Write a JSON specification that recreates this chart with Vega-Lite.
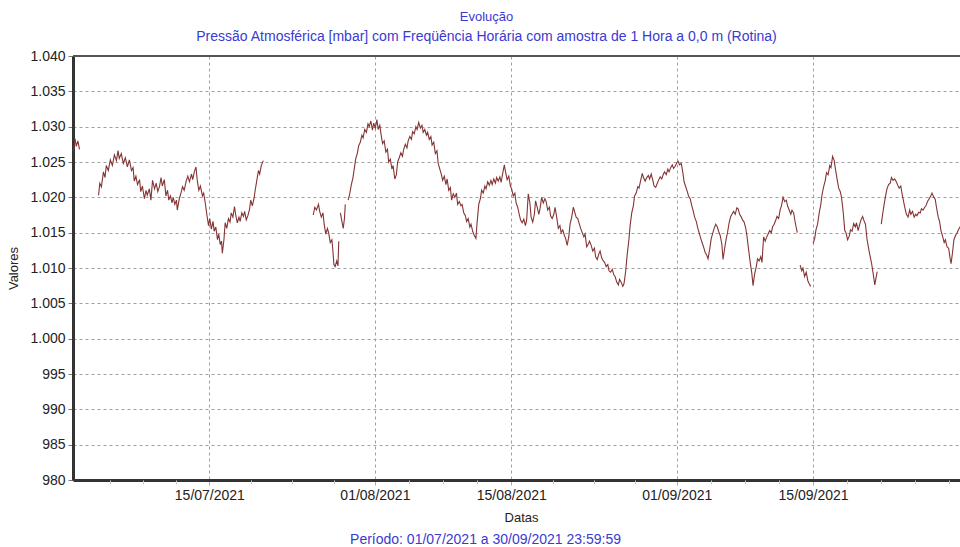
{
 "$schema": "https://vega.github.io/schema/vega-lite/v6.json",
 "width": 887,
 "height": 424,
 "autosize": {"type": "none"},
 "padding": {"left": 73, "top": 56, "right": 0, "bottom": 67},
 "background": "#ffffff",
 "config": {"view": {"stroke": null}, "font": "Liberation Sans"},
 "title": {"text": "Evolução", "subtitle": "Pressão Atmosférica [mbar] com Freqüência Horária com amostra de 1 Hora a 0,0 m (Rotina)", "color": "#3a3ad0", "subtitleColor": "#3a3ad0", "fontSize": 13, "subtitleFontSize": 14, "fontWeight": "normal", "font": "Liberation Sans", "subtitleFont": "Liberation Sans", "anchor": "middle", "frame": "group", "dx": -30, "offset": 5, "subtitlePadding": 6},
 "layer": [
  {
   "data": {"values": [
{"t":"2021-07-01T01:00","v":1026.5},{"t":"2021-07-01T05:00","v":1028.3},{"t":"2021-07-01T08:00","v":1027.2},{"t":"2021-07-01T12:00","v":1028},{"t":"2021-07-01T16:00","v":1026.8},{"t":"2021-07-01T20:00","v":null},
{"t":"2021-07-03T15:00","v":1020.3},{"t":"2021-07-03T18:00","v":1022},{"t":"2021-07-03T22:00","v":1021.5},{"t":"2021-07-04T03:00","v":1023.6},{"t":"2021-07-04T07:00","v":1022.8},{"t":"2021-07-04T10:00","v":1024.5},{"t":"2021-07-04T15:00","v":1023.8},{"t":"2021-07-04T20:00","v":1025.3},{"t":"2021-07-05T01:00","v":1024.5},{"t":"2021-07-05T06:00","v":1026},{"t":"2021-07-05T11:00","v":1025.2},{"t":"2021-07-05T15:00","v":1026.6},{"t":"2021-07-05T18:00","v":1025.5},{"t":"2021-07-05T23:00","v":1026.2},
{"t":"2021-07-06T04:00","v":1024.8},{"t":"2021-07-06T09:00","v":1025.6},{"t":"2021-07-06T14:00","v":1024.3},{"t":"2021-07-06T19:00","v":1025.3},{"t":"2021-07-07T00:00","v":1023.8},{"t":"2021-07-07T04:00","v":1024.2},{"t":"2021-07-07T07:00","v":1022.3},{"t":"2021-07-07T11:00","v":1023},{"t":"2021-07-07T15:00","v":1021.8},{"t":"2021-07-07T20:00","v":1022.5},{"t":"2021-07-07T23:00","v":1020.8},
{"t":"2021-07-08T03:00","v":1021.6},{"t":"2021-07-08T08:00","v":1019.8},{"t":"2021-07-08T12:00","v":1021},{"t":"2021-07-08T15:00","v":1020.3},{"t":"2021-07-08T20:00","v":1021.2},{"t":"2021-07-09T00:00","v":1019.6},{"t":"2021-07-09T04:00","v":1022.4},{"t":"2021-07-09T09:00","v":1021.2},{"t":"2021-07-09T13:00","v":1022},{"t":"2021-07-09T17:00","v":1020.8},{"t":"2021-07-09T21:00","v":1021.5},
{"t":"2021-07-10T01:00","v":1022.8},{"t":"2021-07-10T04:00","v":1021.6},{"t":"2021-07-10T09:00","v":1022.5},{"t":"2021-07-10T13:00","v":1020.2},{"t":"2021-07-10T17:00","v":1021},{"t":"2021-07-10T20:00","v":1019.6},{"t":"2021-07-11T00:00","v":1020.2},{"t":"2021-07-11T04:00","v":1019.2},{"t":"2021-07-11T07:00","v":1020},{"t":"2021-07-11T11:00","v":1019},{"t":"2021-07-11T15:00","v":1019.6},{"t":"2021-07-11T17:00","v":1018.2},{"t":"2021-07-11T22:00","v":1019.8},
{"t":"2021-07-12T02:00","v":1020.6},{"t":"2021-07-12T06:00","v":1021.5},{"t":"2021-07-12T10:00","v":1021},{"t":"2021-07-12T15:00","v":1022.3},{"t":"2021-07-12T19:00","v":1023},{"t":"2021-07-12T23:00","v":1022.2},{"t":"2021-07-13T04:00","v":1023.3},{"t":"2021-07-13T07:00","v":1022.5},{"t":"2021-07-13T11:00","v":1023.6},{"t":"2021-07-13T15:00","v":1024.3},{"t":"2021-07-13T18:00","v":1022.5},{"t":"2021-07-13T22:00","v":1021},
{"t":"2021-07-14T02:00","v":1021.6},{"t":"2021-07-14T07:00","v":1020.2},{"t":"2021-07-14T10:00","v":1020.6},{"t":"2021-07-14T14:00","v":1019.2},{"t":"2021-07-14T18:00","v":1017.5},{"t":"2021-07-14T22:00","v":1016},{"t":"2021-07-15T01:00","v":1017},{"t":"2021-07-15T05:00","v":1015.5},{"t":"2021-07-15T09:00","v":1016.6},{"t":"2021-07-15T12:00","v":1015.2},{"t":"2021-07-15T16:00","v":1015.8},{"t":"2021-07-15T20:00","v":1014},{"t":"2021-07-15T23:00","v":1014.8},
{"t":"2021-07-16T03:00","v":1013.3},{"t":"2021-07-16T06:00","v":1013.8},{"t":"2021-07-16T08:00","v":1012.1},{"t":"2021-07-16T12:00","v":1014},{"t":"2021-07-16T15:00","v":1016.4},{"t":"2021-07-16T19:00","v":1015.6},{"t":"2021-07-16T23:00","v":1017},{"t":"2021-07-17T03:00","v":1016.5},{"t":"2021-07-17T06:00","v":1017.8},{"t":"2021-07-17T10:00","v":1017.2},{"t":"2021-07-17T14:00","v":1018.7},{"t":"2021-07-17T17:00","v":1017.5},{"t":"2021-07-17T21:00","v":1016.4},
{"t":"2021-07-18T01:00","v":1017.2},{"t":"2021-07-18T04:00","v":1016.6},{"t":"2021-07-18T08:00","v":1017.8},{"t":"2021-07-18T12:00","v":1017.3},{"t":"2021-07-18T15:00","v":1018},{"t":"2021-07-18T19:00","v":1016.8},{"t":"2021-07-18T23:00","v":1017.4},{"t":"2021-07-19T03:00","v":1018.3},{"t":"2021-07-19T06:00","v":1019.6},{"t":"2021-07-19T10:00","v":1018.8},{"t":"2021-07-19T14:00","v":1019.8},{"t":"2021-07-19T17:00","v":1021},{"t":"2021-07-19T21:00","v":1022.4},
{"t":"2021-07-20T01:00","v":1023.8},{"t":"2021-07-20T04:00","v":1023.3},{"t":"2021-07-20T08:00","v":1024.5},{"t":"2021-07-20T13:00","v":1025.2},{"t":"2021-07-20T18:00","v":null},
{"t":"2021-07-25T16:00","v":1017.5},{"t":"2021-07-25T20:00","v":1018.6},{"t":"2021-07-26T00:00","v":1018.2},{"t":"2021-07-26T05:00","v":1019},{"t":"2021-07-26T08:00","v":1018},{"t":"2021-07-26T12:00","v":1017.2},{"t":"2021-07-26T16:00","v":1017.8},{"t":"2021-07-26T19:00","v":1016.2},{"t":"2021-07-26T23:00","v":1014.8},{"t":"2021-07-27T03:00","v":1015.6},{"t":"2021-07-27T06:00","v":1015},{"t":"2021-07-27T10:00","v":1013.6},{"t":"2021-07-27T14:00","v":1014},{"t":"2021-07-27T16:00","v":1012.8},{"t":"2021-07-27T19:00","v":1010.5},{"t":"2021-07-27T22:00","v":1010.2},{"t":"2021-07-28T02:00","v":1011},{"t":"2021-07-28T05:00","v":1010.3},{"t":"2021-07-28T07:00","v":1013.8},{"t":"2021-07-28T09:00","v":null},
{"t":"2021-07-28T11:00","v":1017.8},{"t":"2021-07-28T14:00","v":1016.8},{"t":"2021-07-28T18:00","v":1015.6},{"t":"2021-07-28T21:00","v":1017},{"t":"2021-07-28T23:00","v":1019},{"t":"2021-07-29T02:00","v":null},
{"t":"2021-07-29T06:00","v":1019.6},{"t":"2021-07-29T10:00","v":1020.5},{"t":"2021-07-29T14:00","v":1021.8},{"t":"2021-07-29T18:00","v":1022.8},{"t":"2021-07-29T21:00","v":1024},{"t":"2021-07-30T01:00","v":1025.5},{"t":"2021-07-30T05:00","v":1026.3},{"t":"2021-07-30T08:00","v":1027.3},{"t":"2021-07-30T12:00","v":1027.8},{"t":"2021-07-30T16:00","v":1028.8},{"t":"2021-07-30T19:00","v":1028.4},{"t":"2021-07-30T23:00","v":1029.6},
{"t":"2021-07-31T03:00","v":1029.2},{"t":"2021-07-31T07:00","v":1030.4},{"t":"2021-07-31T10:00","v":1030},{"t":"2021-07-31T14:00","v":1030.8},{"t":"2021-07-31T18:00","v":1029.5},{"t":"2021-07-31T21:00","v":1030.5},{"t":"2021-08-01T01:00","v":1029.8},{"t":"2021-08-01T05:00","v":1031},{"t":"2021-08-01T08:00","v":1029.6},{"t":"2021-08-01T12:00","v":1030.2},{"t":"2021-08-01T16:00","v":1028.6},{"t":"2021-08-01T19:00","v":1027.6},{"t":"2021-08-01T23:00","v":1028},
{"t":"2021-08-02T03:00","v":1026.4},{"t":"2021-08-02T07:00","v":1026.8},{"t":"2021-08-02T10:00","v":1025},{"t":"2021-08-02T14:00","v":1025.4},{"t":"2021-08-02T18:00","v":1024},{"t":"2021-08-02T21:00","v":1024.5},{"t":"2021-08-03T01:00","v":1022.6},{"t":"2021-08-03T05:00","v":1023.2},{"t":"2021-08-03T08:00","v":1025},{"t":"2021-08-03T12:00","v":1025.6},{"t":"2021-08-03T16:00","v":1026.3},{"t":"2021-08-03T20:00","v":1025.8},{"t":"2021-08-03T23:00","v":1026.8},
{"t":"2021-08-04T03:00","v":1027.5},{"t":"2021-08-04T07:00","v":1027},{"t":"2021-08-04T10:00","v":1028},{"t":"2021-08-04T14:00","v":1028.6},{"t":"2021-08-04T18:00","v":1028.2},{"t":"2021-08-04T21:00","v":1029.3},{"t":"2021-08-05T01:00","v":1029},{"t":"2021-08-05T05:00","v":1030},{"t":"2021-08-05T08:00","v":1029.6},{"t":"2021-08-05T12:00","v":1030.6},{"t":"2021-08-05T16:00","v":1029.8},{"t":"2021-08-05T20:00","v":1030.2},{"t":"2021-08-05T23:00","v":1029.2},
{"t":"2021-08-06T03:00","v":1029.6},{"t":"2021-08-06T07:00","v":1028.8},{"t":"2021-08-06T10:00","v":1029.2},{"t":"2021-08-06T14:00","v":1028.2},{"t":"2021-08-06T18:00","v":1028.6},{"t":"2021-08-06T21:00","v":1027.4},{"t":"2021-08-07T01:00","v":1027.8},{"t":"2021-08-07T05:00","v":1026.2},{"t":"2021-08-07T09:00","v":1026.6},{"t":"2021-08-07T12:00","v":1024.8},{"t":"2021-08-07T16:00","v":1024},{"t":"2021-08-07T20:00","v":1023.2},{"t":"2021-08-07T23:00","v":1022.4},
{"t":"2021-08-08T03:00","v":1023},{"t":"2021-08-08T07:00","v":1021.8},{"t":"2021-08-08T10:00","v":1022.6},{"t":"2021-08-08T14:00","v":1021},{"t":"2021-08-08T18:00","v":1021.4},{"t":"2021-08-08T21:00","v":1019.6},{"t":"2021-08-09T01:00","v":1020.5},{"t":"2021-08-09T05:00","v":1020},{"t":"2021-08-09T09:00","v":1020.6},{"t":"2021-08-09T12:00","v":1019},{"t":"2021-08-09T16:00","v":1019.4},{"t":"2021-08-09T20:00","v":1018.8},{"t":"2021-08-09T23:00","v":1019},
{"t":"2021-08-10T03:00","v":1017.8},{"t":"2021-08-10T07:00","v":1017.4},{"t":"2021-08-10T10:00","v":1016.6},{"t":"2021-08-10T14:00","v":1017},{"t":"2021-08-10T18:00","v":1015.8},{"t":"2021-08-10T21:00","v":1016.2},{"t":"2021-08-11T01:00","v":1015.2},{"t":"2021-08-11T05:00","v":1014.6},{"t":"2021-08-11T09:00","v":1014.2},{"t":"2021-08-11T12:00","v":1016.5},{"t":"2021-08-11T16:00","v":1019},{"t":"2021-08-11T20:00","v":1019.8},{"t":"2021-08-11T23:00","v":1021},
{"t":"2021-08-12T03:00","v":1020.6},{"t":"2021-08-12T07:00","v":1021.6},{"t":"2021-08-12T10:00","v":1021.2},{"t":"2021-08-12T14:00","v":1022.2},{"t":"2021-08-12T18:00","v":1021.7},{"t":"2021-08-12T22:00","v":1022.4},{"t":"2021-08-13T01:00","v":1021.8},{"t":"2021-08-13T05:00","v":1022.6},{"t":"2021-08-13T09:00","v":1022},{"t":"2021-08-13T12:00","v":1022.8},{"t":"2021-08-13T16:00","v":1022.3},{"t":"2021-08-13T20:00","v":1022.9},{"t":"2021-08-13T23:00","v":1022.1},
{"t":"2021-08-14T03:00","v":1023.4},{"t":"2021-08-14T07:00","v":1024.6},{"t":"2021-08-14T10:00","v":1023.6},{"t":"2021-08-14T14:00","v":1022.5},{"t":"2021-08-14T18:00","v":1023},{"t":"2021-08-14T22:00","v":1021.6},{"t":"2021-08-15T01:00","v":1021.2},{"t":"2021-08-15T05:00","v":1020.2},{"t":"2021-08-15T09:00","v":1020.6},{"t":"2021-08-15T12:00","v":1019.2},{"t":"2021-08-15T16:00","v":1018.6},{"t":"2021-08-15T20:00","v":1017.5},{"t":"2021-08-15T23:00","v":1016.8},
{"t":"2021-08-16T03:00","v":1016.4},{"t":"2021-08-16T07:00","v":1016.9},{"t":"2021-08-16T11:00","v":1016},{"t":"2021-08-16T14:00","v":1016.8},{"t":"2021-08-16T18:00","v":1020.5},{"t":"2021-08-16T22:00","v":1019.2},{"t":"2021-08-17T01:00","v":1017.2},{"t":"2021-08-17T05:00","v":1016.5},{"t":"2021-08-17T09:00","v":1017.6},{"t":"2021-08-17T12:00","v":1019.5},{"t":"2021-08-17T16:00","v":1018.6},{"t":"2021-08-17T20:00","v":1017.6},{"t":"2021-08-17T23:00","v":1018.4},
{"t":"2021-08-18T03:00","v":1020},{"t":"2021-08-18T07:00","v":1019.2},{"t":"2021-08-18T11:00","v":1019.8},{"t":"2021-08-18T14:00","v":1019.4},{"t":"2021-08-18T18:00","v":1018.2},{"t":"2021-08-18T22:00","v":1018.6},{"t":"2021-08-19T01:00","v":1017.4},{"t":"2021-08-19T05:00","v":1017},{"t":"2021-08-19T09:00","v":1017.6},{"t":"2021-08-19T12:00","v":1018.6},{"t":"2021-08-19T16:00","v":1017.2},{"t":"2021-08-19T20:00","v":1015.6},
{"t":"2021-08-20T00:00","v":1016},{"t":"2021-08-20T03:00","v":1015},{"t":"2021-08-20T07:00","v":1015.4},{"t":"2021-08-20T11:00","v":1014.6},{"t":"2021-08-20T14:00","v":1014.2},{"t":"2021-08-20T18:00","v":1013.2},{"t":"2021-08-20T22:00","v":1014.5},{"t":"2021-08-21T01:00","v":1016.2},{"t":"2021-08-21T05:00","v":1017.2},{"t":"2021-08-21T09:00","v":1018.6},{"t":"2021-08-21T12:00","v":1018},{"t":"2021-08-21T16:00","v":1017.2},{"t":"2021-08-21T20:00","v":1017},
{"t":"2021-08-22T00:00","v":1016.2},{"t":"2021-08-22T03:00","v":1015.6},{"t":"2021-08-22T07:00","v":1015},{"t":"2021-08-22T11:00","v":1014.4},{"t":"2021-08-22T14:00","v":1014.8},{"t":"2021-08-22T18:00","v":1013},{"t":"2021-08-22T22:00","v":1013.4},{"t":"2021-08-23T01:00","v":1013.8},{"t":"2021-08-23T05:00","v":1013.2},{"t":"2021-08-23T09:00","v":1012.4},{"t":"2021-08-23T13:00","v":1012.8},{"t":"2021-08-23T16:00","v":1011.6},{"t":"2021-08-23T20:00","v":1011.2},
{"t":"2021-08-24T00:00","v":1012},{"t":"2021-08-24T03:00","v":1012.4},{"t":"2021-08-24T07:00","v":1011.4},{"t":"2021-08-24T11:00","v":1011},{"t":"2021-08-24T14:00","v":1010.8},{"t":"2021-08-24T18:00","v":1010.2},{"t":"2021-08-24T22:00","v":1010.5},{"t":"2021-08-25T01:00","v":1009.6},{"t":"2021-08-25T05:00","v":1009.4},{"t":"2021-08-25T09:00","v":1009.8},{"t":"2021-08-25T13:00","v":1009},{"t":"2021-08-25T16:00","v":1008.8},{"t":"2021-08-25T20:00","v":1008},
{"t":"2021-08-26T00:00","v":1007.6},{"t":"2021-08-26T03:00","v":1008.4},{"t":"2021-08-26T07:00","v":1008},{"t":"2021-08-26T11:00","v":1007.4},{"t":"2021-08-26T14:00","v":1007.8},{"t":"2021-08-26T18:00","v":1009.5},{"t":"2021-08-26T22:00","v":1012},{"t":"2021-08-27T02:00","v":1014},{"t":"2021-08-27T05:00","v":1016},{"t":"2021-08-27T09:00","v":1017.8},{"t":"2021-08-27T13:00","v":1018.8},{"t":"2021-08-27T16:00","v":1020.2},{"t":"2021-08-27T20:00","v":1020.6},
{"t":"2021-08-28T00:00","v":1021.5},{"t":"2021-08-28T03:00","v":1021.3},{"t":"2021-08-28T07:00","v":1022.4},{"t":"2021-08-28T11:00","v":1023.4},{"t":"2021-08-28T14:00","v":1022.8},{"t":"2021-08-28T18:00","v":1022.3},{"t":"2021-08-28T22:00","v":1022.8},{"t":"2021-08-29T02:00","v":1023.1},{"t":"2021-08-29T05:00","v":1022.6},{"t":"2021-08-29T09:00","v":1023.3},{"t":"2021-08-29T13:00","v":1022.4},{"t":"2021-08-29T16:00","v":1021.6},{"t":"2021-08-29T20:00","v":1021.4},
{"t":"2021-08-30T00:00","v":1022},{"t":"2021-08-30T03:00","v":1022.4},{"t":"2021-08-30T07:00","v":1022.9},{"t":"2021-08-30T11:00","v":1022.6},{"t":"2021-08-30T15:00","v":1023.3},{"t":"2021-08-30T18:00","v":1023.6},{"t":"2021-08-30T22:00","v":1023.2},{"t":"2021-08-31T02:00","v":1024},{"t":"2021-08-31T05:00","v":1023.6},{"t":"2021-08-31T09:00","v":1024.2},{"t":"2021-08-31T13:00","v":1024.6},{"t":"2021-08-31T16:00","v":1024.1},{"t":"2021-08-31T20:00","v":1024.4},
{"t":"2021-09-01T00:00","v":1024.9},{"t":"2021-09-01T03:00","v":1025.1},{"t":"2021-09-01T07:00","v":1024.6},{"t":"2021-09-01T11:00","v":1024.8},{"t":"2021-09-01T15:00","v":1023.5},{"t":"2021-09-01T18:00","v":1022.2},{"t":"2021-09-01T22:00","v":1021.5},{"t":"2021-09-02T02:00","v":1020.8},{"t":"2021-09-02T05:00","v":1020.2},{"t":"2021-09-02T09:00","v":1019.8},{"t":"2021-09-02T13:00","v":1018.8},{"t":"2021-09-02T16:00","v":1018.2},{"t":"2021-09-02T20:00","v":1017.2},
{"t":"2021-09-03T00:00","v":1016.6},{"t":"2021-09-03T04:00","v":1015.6},{"t":"2021-09-03T07:00","v":1015},{"t":"2021-09-03T11:00","v":1014.2},{"t":"2021-09-03T15:00","v":1013.5},{"t":"2021-09-03T18:00","v":1013},{"t":"2021-09-03T22:00","v":1012.2},{"t":"2021-09-04T02:00","v":1011.8},{"t":"2021-09-04T05:00","v":1011.3},{"t":"2021-09-04T09:00","v":1012.6},{"t":"2021-09-04T13:00","v":1014.2},{"t":"2021-09-04T16:00","v":1014.8},{"t":"2021-09-04T20:00","v":1015.6},
{"t":"2021-09-05T00:00","v":1016.2},{"t":"2021-09-05T04:00","v":1015.8},{"t":"2021-09-05T07:00","v":1015.2},{"t":"2021-09-05T11:00","v":1014.6},{"t":"2021-09-05T15:00","v":1013.4},{"t":"2021-09-05T18:00","v":1011.2},{"t":"2021-09-05T22:00","v":1012.8},{"t":"2021-09-06T02:00","v":1014.2},{"t":"2021-09-06T05:00","v":1015},{"t":"2021-09-06T09:00","v":1016.4},{"t":"2021-09-06T13:00","v":1017.3},{"t":"2021-09-06T16:00","v":1017.6},{"t":"2021-09-06T20:00","v":1018},
{"t":"2021-09-07T00:00","v":1017.6},{"t":"2021-09-07T04:00","v":1018.5},{"t":"2021-09-07T07:00","v":1018.4},{"t":"2021-09-07T11:00","v":1017.6},{"t":"2021-09-07T15:00","v":1017.2},{"t":"2021-09-07T18:00","v":1016.8},{"t":"2021-09-07T22:00","v":1016.5},{"t":"2021-09-08T02:00","v":1015.6},{"t":"2021-09-08T05:00","v":1014.5},{"t":"2021-09-08T09:00","v":1012.6},{"t":"2021-09-08T13:00","v":1010.8},{"t":"2021-09-08T17:00","v":1009.2},{"t":"2021-09-08T20:00","v":1007.5},
{"t":"2021-09-09T00:00","v":1009.2},{"t":"2021-09-09T04:00","v":1010.2},{"t":"2021-09-09T07:00","v":1011.3},{"t":"2021-09-09T11:00","v":1011},{"t":"2021-09-09T15:00","v":1011.6},{"t":"2021-09-09T18:00","v":1010.8},{"t":"2021-09-09T22:00","v":1014.4},{"t":"2021-09-10T02:00","v":1013.8},{"t":"2021-09-10T05:00","v":1014.3},{"t":"2021-09-10T09:00","v":1014.8},{"t":"2021-09-10T13:00","v":1015.3},{"t":"2021-09-10T17:00","v":1015},{"t":"2021-09-10T20:00","v":1015.8},
{"t":"2021-09-11T00:00","v":1016.2},{"t":"2021-09-11T04:00","v":1016.8},{"t":"2021-09-11T07:00","v":1017.3},{"t":"2021-09-11T11:00","v":1017},{"t":"2021-09-11T15:00","v":1018.3},{"t":"2021-09-11T18:00","v":1018.8},{"t":"2021-09-11T22:00","v":1020},{"t":"2021-09-12T02:00","v":1019.4},{"t":"2021-09-12T06:00","v":1019.6},{"t":"2021-09-12T09:00","v":1018.8},{"t":"2021-09-12T13:00","v":1018.2},{"t":"2021-09-12T17:00","v":1017.6},{"t":"2021-09-12T20:00","v":1018.2},
{"t":"2021-09-13T00:00","v":1017.8},{"t":"2021-09-13T04:00","v":1016.4},{"t":"2021-09-13T09:00","v":1015},{"t":"2021-09-13T12:00","v":null},
{"t":"2021-09-13T16:00","v":1010.4},{"t":"2021-09-13T20:00","v":1009.6},{"t":"2021-09-13T23:00","v":1010},{"t":"2021-09-14T03:00","v":1008.8},{"t":"2021-09-14T07:00","v":1009.4},{"t":"2021-09-14T11:00","v":1008.2},{"t":"2021-09-14T14:00","v":1007.8},{"t":"2021-09-14T18:00","v":1007.4},{"t":"2021-09-14T21:00","v":null},
{"t":"2021-09-15T00:00","v":1013.5},{"t":"2021-09-15T04:00","v":1014.2},{"t":"2021-09-15T07:00","v":1015.4},{"t":"2021-09-15T11:00","v":1016.2},{"t":"2021-09-15T15:00","v":1017.8},{"t":"2021-09-15T19:00","v":1019},{"t":"2021-09-15T22:00","v":1020.4},{"t":"2021-09-16T02:00","v":1021.5},{"t":"2021-09-16T06:00","v":1022.4},{"t":"2021-09-16T09:00","v":1023.5},{"t":"2021-09-16T13:00","v":1023.2},{"t":"2021-09-16T17:00","v":1024.5},{"t":"2021-09-16T20:00","v":1024.2},
{"t":"2021-09-17T00:00","v":1025.8},{"t":"2021-09-17T04:00","v":1025.2},{"t":"2021-09-17T07:00","v":1024},{"t":"2021-09-17T11:00","v":1022.6},{"t":"2021-09-17T15:00","v":1021.3},{"t":"2021-09-17T19:00","v":1020.8},{"t":"2021-09-17T22:00","v":1020},{"t":"2021-09-18T02:00","v":1018},{"t":"2021-09-18T06:00","v":1015.3},{"t":"2021-09-18T09:00","v":1015},{"t":"2021-09-18T13:00","v":1014},{"t":"2021-09-18T17:00","v":1014.5},{"t":"2021-09-18T20:00","v":1015.4},
{"t":"2021-09-19T00:00","v":1015.2},{"t":"2021-09-19T04:00","v":1016.3},{"t":"2021-09-19T08:00","v":1015.8},{"t":"2021-09-19T11:00","v":1016.4},{"t":"2021-09-19T15:00","v":1015.3},{"t":"2021-09-19T19:00","v":1016.2},{"t":"2021-09-19T22:00","v":1016.8},{"t":"2021-09-20T02:00","v":1017.3},{"t":"2021-09-20T06:00","v":1016.6},{"t":"2021-09-20T09:00","v":1016.2},{"t":"2021-09-20T13:00","v":1014},{"t":"2021-09-20T17:00","v":1012.7},{"t":"2021-09-20T20:00","v":1011.8},
{"t":"2021-09-21T00:00","v":1010.7},{"t":"2021-09-21T04:00","v":1009.2},{"t":"2021-09-21T08:00","v":1007.6},{"t":"2021-09-21T11:00","v":1008.6},{"t":"2021-09-21T14:00","v":1009.5},{"t":"2021-09-21T17:00","v":null},
{"t":"2021-09-22T00:00","v":1016.2},{"t":"2021-09-22T03:00","v":1017.5},{"t":"2021-09-22T07:00","v":1019},{"t":"2021-09-22T11:00","v":1020.3},{"t":"2021-09-22T14:00","v":1021.2},{"t":"2021-09-22T18:00","v":1021.8},{"t":"2021-09-22T22:00","v":1022},{"t":"2021-09-23T01:00","v":1022.8},{"t":"2021-09-23T05:00","v":1022.4},{"t":"2021-09-23T09:00","v":1022.6},{"t":"2021-09-23T13:00","v":1022.2},{"t":"2021-09-23T16:00","v":1021.8},{"t":"2021-09-23T20:00","v":1021.3},
{"t":"2021-09-24T00:00","v":1021.6},{"t":"2021-09-24T03:00","v":1020.6},{"t":"2021-09-24T07:00","v":1019.4},{"t":"2021-09-24T11:00","v":1018.3},{"t":"2021-09-24T14:00","v":1017.6},{"t":"2021-09-24T18:00","v":1017.2},{"t":"2021-09-24T22:00","v":1018.2},{"t":"2021-09-25T01:00","v":1017.6},{"t":"2021-09-25T05:00","v":1018},{"t":"2021-09-25T09:00","v":1017.2},{"t":"2021-09-25T13:00","v":1017.6},{"t":"2021-09-25T16:00","v":1017.4},{"t":"2021-09-25T20:00","v":1017.9},
{"t":"2021-09-26T00:00","v":1017.8},{"t":"2021-09-26T03:00","v":1018.4},{"t":"2021-09-26T07:00","v":1018.2},{"t":"2021-09-26T11:00","v":1018.6},{"t":"2021-09-26T14:00","v":1018.8},{"t":"2021-09-26T18:00","v":1019.4},{"t":"2021-09-26T22:00","v":1019.8},{"t":"2021-09-27T02:00","v":1020.2},{"t":"2021-09-27T05:00","v":1020.6},{"t":"2021-09-27T09:00","v":1020.1},{"t":"2021-09-27T13:00","v":1019.7},{"t":"2021-09-27T16:00","v":1018.6},{"t":"2021-09-27T20:00","v":1017.3},
{"t":"2021-09-28T00:00","v":1016.5},{"t":"2021-09-28T03:00","v":1015.3},{"t":"2021-09-28T07:00","v":1014.5},{"t":"2021-09-28T11:00","v":1013.6},{"t":"2021-09-28T14:00","v":1014},{"t":"2021-09-28T18:00","v":1013},{"t":"2021-09-28T22:00","v":1012.8},{"t":"2021-09-29T02:00","v":1011.2},{"t":"2021-09-29T04:00","v":1010.6},{"t":"2021-09-29T08:00","v":1012.4},{"t":"2021-09-29T11:00","v":1014},{"t":"2021-09-29T15:00","v":1014.6},{"t":"2021-09-29T19:00","v":1015},{"t":"2021-09-29T22:00","v":1015.4},
{"t":"2021-09-30T02:00","v":1015.8},{"t":"2021-09-30T06:00","v":1016.2}
   ]},
   "mark": {"type": "line", "color": "#843434", "strokeWidth": 1.1, "clip": true, "invalid": "break-paths-show-domains"},
   "encoding": {
    "x": {"field": "t", "type": "temporal",
     "scale": {"domain": [{"year": 2021, "month": 7, "date": 1}, {"year": 2021, "month": 9, "date": 30, "hours": 2}]},
     "axis": {"values": [{"year": 2021, "month": 7, "date": 15}, {"year": 2021, "month": 8, "date": 1}, {"year": 2021, "month": 8, "date": 15}, {"year": 2021, "month": 9, "date": 1}, {"year": 2021, "month": 9, "date": 15}],
      "format": "%d/%m/%Y", "title": "Datas", "titleFontWeight": "normal", "titleFontSize": 13, "titleColor": "#222222", "titleFont": "Liberation Sans",
      "labelFontSize": 14, "labelColor": "#222222", "labelFont": "Liberation Sans", "labelPadding": 3, "labelFlush": false,
      "tickSize": 5, "tickColor": "#aaaaaa", "domainColor": "#333333", "domainWidth": 3,
      "grid": true, "gridColor": "#a0a0a0", "gridDash": [3, 3], "gridWidth": 1, "titlePadding": 9, "titleX": 448}},
    "y": {"field": "v", "type": "quantitative",
     "scale": {"domain": [980, 1040], "nice": false, "zero": false},
     "axis": {"values": [980, 985, 990, 995, 1000, 1005, 1010, 1015, 1020, 1025, 1030, 1035, 1040],
      "labelExpr": "replace(format(datum.value, ','), ',', '.')",
      "title": "Valores", "titleFontWeight": "normal", "titleFontSize": 13, "titleColor": "#222222", "titleFont": "Liberation Sans", "titlePadding": 9,
      "labelFontSize": 14, "labelColor": "#222222", "labelFont": "Liberation Sans", "labelPadding": 3,
      "tickSize": 5, "tickColor": "#777777", "domainColor": "#333333", "domainWidth": 3,
      "grid": true, "gridColor": "#a0a0a0", "gridDash": [3, 3], "gridWidth": 1}}
   }
  },
  {
   "data": {"values": [{}]},
   "mark": {"type": "rule", "color": "#555555", "strokeWidth": 2},
   "encoding": {
    "x": {"datum": {"year": 2021, "month": 7, "date": 1}, "type": "temporal",
     "axis": {"orient": "bottom", "labels": false, "domain": false, "grid": false,
      "values": [{"year": 2021, "month": 7, "date": 4, "hours": 19}, {"year": 2021, "month": 7, "date": 8, "hours": 5}, {"year": 2021, "month": 7, "date": 11, "hours": 14}, {"year": 2021, "month": 7, "date": 19, "hours": 6}, {"year": 2021, "month": 7, "date": 23, "hours": 12}, {"year": 2021, "month": 7, "date": 27, "hours": 18}, {"year": 2021, "month": 8, "date": 4, "hours": 12}, {"year": 2021, "month": 8, "date": 8}, {"year": 2021, "month": 8, "date": 11, "hours": 12}, {"year": 2021, "month": 8, "date": 19, "hours": 6}, {"year": 2021, "month": 8, "date": 23, "hours": 12}, {"year": 2021, "month": 8, "date": 27, "hours": 18}, {"year": 2021, "month": 9, "date": 4, "hours": 12}, {"year": 2021, "month": 9, "date": 8}, {"year": 2021, "month": 9, "date": 11, "hours": 12}, {"year": 2021, "month": 9, "date": 18, "hours": 12}, {"year": 2021, "month": 9, "date": 22}, {"year": 2021, "month": 9, "date": 25, "hours": 12}, {"year": 2021, "month": 9, "date": 29}],
      "tickSize": 4, "tickColor": "#c8c8c8",
      "title": "Período: 01/07/2021 a 30/09/2021 23:59:59", "titleColor": "#3a3ad0", "titleFontWeight": "normal", "titleFontSize": 14, "titleFont": "Liberation Sans", "titlePadding": 48, "titleX": 412}},
    "x2": {"datum": {"year": 2021, "month": 9, "date": 30, "hours": 2}},
    "y": {"datum": 1040, "type": "quantitative", "axis": null}
   }
  }
 ],
 "resolve": {"axis": {"x": "independent", "y": "independent"}}
}
